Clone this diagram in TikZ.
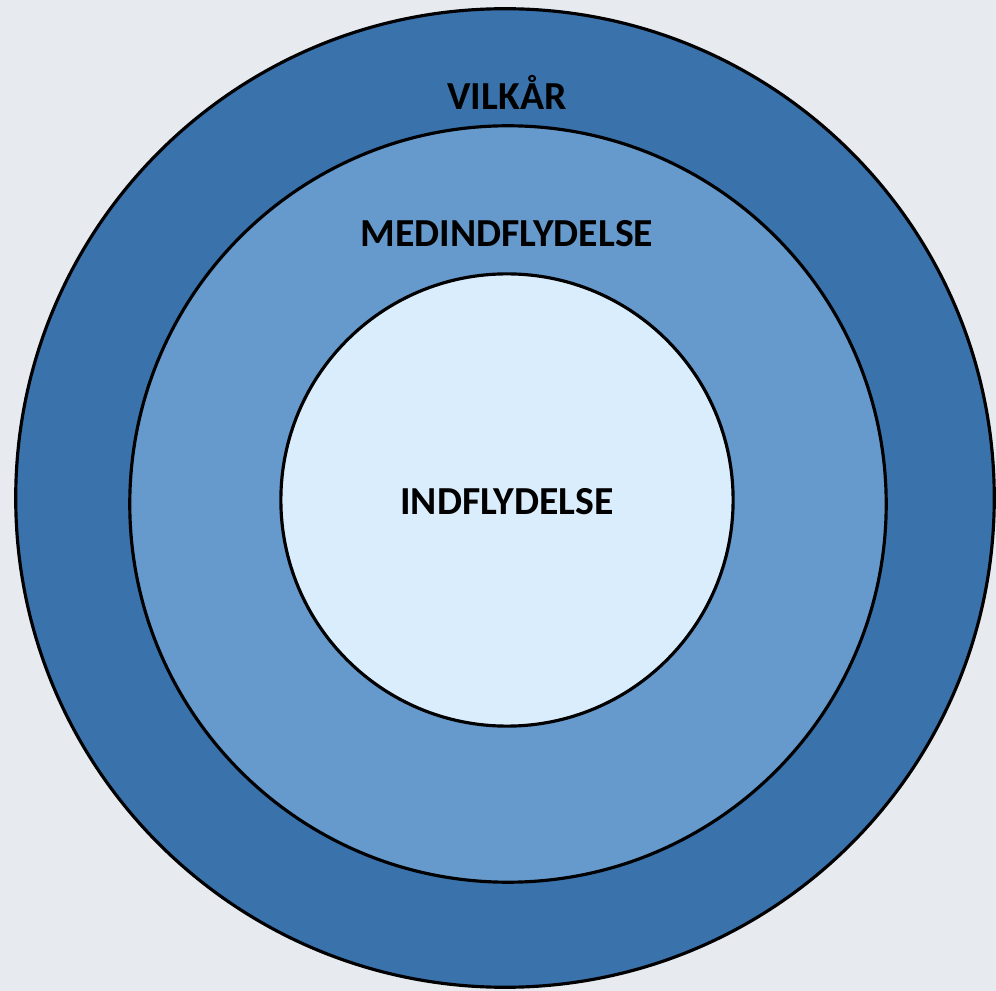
\documentclass[tikz,border=0pt]{standalone}
\usepackage{fontspec}
\setmainfont{Carlito}
\usepackage{xcolor}
\usetikzlibrary{positioning,backgrounds}
\definecolor{bgGrey}{HTML}{E7EBF0}
\definecolor{ringDark}{HTML}{3A72AC}
\definecolor{ringMid}{HTML}{6699CC}
\definecolor{ringLight}{HTML}{DAEDFD}

\begin{document}
\begin{tikzpicture}[
    x=0.01cm, y=-0.01cm,
    ring/.style={circle, draw=black, line width=0.9pt, inner sep=0pt},
    ringlabel/.style={font=\fontsize{11.3}{13}\selectfont\bfseries, text=black, inner sep=0pt}
]
    % Background and frame
    \fill[bgGrey] (0,0) rectangle (996,991);
    \useasboundingbox (0,0) rectangle (996,991);

    % Nested circles
    \node[ring, fill=ringDark, minimum size=9.78cm] (outer) at (505,498) {};
    \node[ring, fill=ringMid, minimum size=7.56cm] (middle) at (508,504) {};
    \node[ring, fill=ringLight, minimum size=4.52cm] (inner) at (507,500) {};

    % Labels
    \node[ringlabel] (vilkaar) at (507,92) {VILKÅR};
    \node[ringlabel] (medind) at (507,234) {MEDINDFLYDELSE};
    \node[ringlabel] (indfly) at (507,502) {INDFLYDELSE};
\end{tikzpicture}
\end{document}
